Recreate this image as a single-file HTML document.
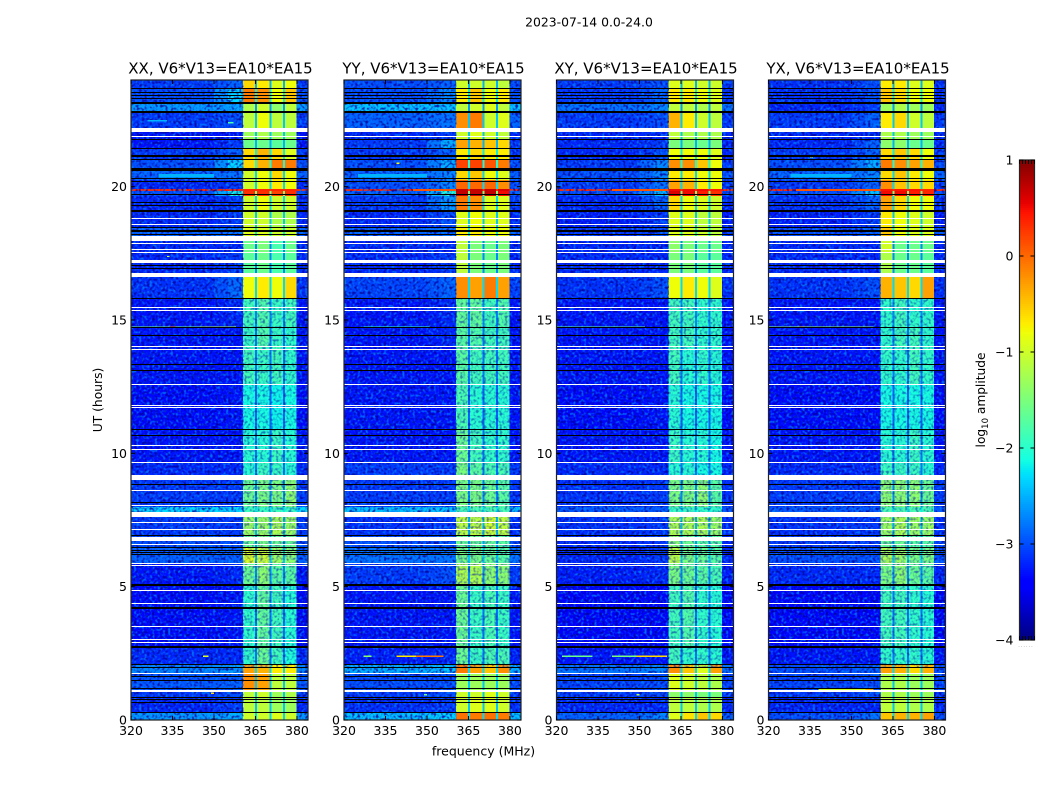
<!DOCTYPE html>
<html lang="en">
<head>
<meta charset="utf-8">
<title>2023-07-14 V6*V13 waterfall</title>
<style>
html,body{margin:0;padding:0;background:#fff;}
body{width:1050px;height:800px;overflow:hidden;}
svg{display:block;}
text{font-family:"DejaVu Sans","Liberation Sans",sans-serif;fill:#000;}
</style>
</head>
<body>
<svg id="figure" xmlns="http://www.w3.org/2000/svg" width="1050" height="800" viewBox="0 0 1050 800">
  <defs>
    <filter id="speckleLight" x="0" y="0" width="100%" height="100%" color-interpolation-filters="sRGB">
      <feTurbulence type="fractalNoise" baseFrequency="0.38" numOctaves="1" seed="4"/>
      <feColorMatrix type="matrix" values="0 0 0 0 0  0 0 0 0 0.5  0 0 0 0 1  4 0 0 0 -1.9"/>
    </filter>
    <filter id="speckleDark" x="0" y="0" width="100%" height="100%" color-interpolation-filters="sRGB">
      <feTurbulence type="fractalNoise" baseFrequency="0.38" numOctaves="1" seed="11"/>
      <feColorMatrix type="matrix" values="0 0 0 0 0  0 0 0 0 0  0 0 0 0 0.6  0 4 0 0 -1.9"/>
    </filter>
  </defs>
  <text x="589" y="26.5" font-size="12.4" text-anchor="middle">2023-07-14 0.0-24.0</text>
  <text x="483.5" y="755.5" font-size="12.5" text-anchor="middle">frequency (MHz)</text>
  <text x="0" y="0" font-size="12.3" text-anchor="middle" transform="translate(102,400) rotate(-90)">UT (hours)</text>
  <g id="panels"></g>
  <g id="colorbar"></g>
</svg>
<script>
/* ---------- data (all read by eye from the reference) ---------- */
const panelNames = ["XX", "YY", "XY", "YX"];
const panelTitleSuffix = ", V6*V13=EA10*EA15";
const freqTicks = [320, 335, 350, 365, 380];
const hourTicks = [0, 5, 10, 15, 20];
const colorbarTicks = [-4, -3, -2, -1, 0, 1];

/* channel column edges in MHz: low, ramp, shoulder, b1, gap, b2, gap, b3, gap, b4, out */
const freqEdges = [320, 350, 355, 360.5, 364.9, 365.6, 370.1, 370.8, 375, 375.6, 379.9, 384];

/* UT hour boundaries of contiguous rows, top to bottom */
const rowEdges = [24, 23.70, 23.13, 22.80, 22.20, 21.78, 21.45, 21.00, 20.70, 20.58, 20.25, 19.92, 19.83, 19.65, 19.09, 18.45, 18.15, 17.51, 16.65, 15.82, 14.74, 14.02, 12.60, 10.91, 9.67, 9.00, 7.99, 7.80, 6.90, 6.45, 5.89, 5.06, 2.74, 2.06, 1.72, 1.12, 0.82, 0.30, 0];

/* log10 amplitude of the notches between sub-bands, per row */
const notchLevels = [-2.5, -2.2, -2.6, -2.4, -2.4, -2.5, -2.2, -2.1, -1.2, -2.3, -2.3, 0.3, -1.5, -2.3, -2.4, -2.2, -2.7, -2.7, -2.3, -2.7, -2.8, -2.8, -2.9, -2.8, -2.8, -2.7, -2.2, -2.5, -2.6, -2.4, -2.7, -2.8, -2.8, -2.3, -2.4, -2.4, -2.4, -2.3];

/* per row: low-band, shoulder, sub-band 1..4 */
const xxLevels = [
[-3.1,-2.9,-0.6,-0.7,-0.9,-0.8],[-3.0,-2.3,-0.1,-0.2,-0.8,-0.5],[-2.6,-2.55,-1.2,-1.0,-1.4,-1.1],[-3.1,-3.0,-1.1,-0.8,-1.1,-1.1],
[-3.3,-3.3,-1.3,-1.2,-1.3,-1.3],[-3.3,-3.1,-1.6,-1.6,-1.7,-1.6],[-3.1,-2.9,-0.6,-0.4,-0.6,-0.9],[-3.0,-2.3,-0.6,-0.4,-0.1,-0.1],
[-2.8,-2.0,0.7,0.7,0.7,0.6],[-2.9,-2.8,-1.0,-0.8,-0.6,-0.8],[-3.2,-3.1,-1.0,-0.8,-0.7,-0.8],[0.35,0.35,0.35,0.35,0.35,0.35],
[-3.0,-2.1,0.3,0.3,0.2,0.3],[-3.2,-3.1,-1.0,-0.8,-1.0,-1.0],[-3.2,-3.1,-1.0,-1.0,-1.2,-1.2],[-2.9,-2.8,-0.9,-0.9,-1.0,-1.0],
[-3.2,-3.2,-1.6,-1.5,-1.8,-1.6],[-3.2,-3.1,-1.7,-1.6,-1.8,-1.7],[-3.15,-2.85,-0.8,-0.7,-0.8,-0.6],[-3.3,-3.2,-1.85,-1.75,-1.9,-1.85],
[-3.3,-3.3,-1.9,-1.75,-1.9,-1.95],[-3.3,-3.3,-1.85,-1.9,-1.85,-1.95],[-3.35,-3.3,-2.1,-2.1,-2.15,-2.1],[-3.3,-3.3,-2.0,-2.0,-1.9,-2.0],
[-3.2,-3.2,-2.0,-1.9,-1.9,-2.0],[-3.1,-3.1,-1.6,-1.5,-1.5,-1.4],[-2.3,-2.3,-1.9,-1.9,-1.9,-1.9],[-3.1,-3.1,-1.3,-1.3,-1.2,-1.3],
[-3.0,-3.0,-1.6,-1.5,-1.6,-1.6],[-2.9,-2.9,-0.9,-1.0,-1.3,-1.4],[-3.3,-3.2,-1.6,-1.4,-1.7,-1.7],[-3.35,-3.3,-1.95,-1.65,-1.85,-2.0],
[-3.2,-3.2,-1.95,-1.6,-1.85,-2.05],[-2.7,-2.6,-0.3,-0.4,-0.7,-0.7],[-2.95,-2.9,-0.2,-0.3,-1.1,-1.1],[-3.1,-3.0,-1.1,-1.0,-1.3,-1.2],
[-3.2,-3.1,-1.1,-1.1,-1.3,-1.3],[-2.6,-2.5,-1.0,-1.0,-0.9,-1.0]];

const yyLevels = [
[-3.0,-2.9,-1.0,-1.0,-1.0,-1.1],[-3.0,-2.7,-0.7,-0.5,-0.8,-0.7],[-2.4,-2.4,-1.1,-1.0,-0.9,-1.1],[-2.9,-2.8,-0.2,-0.1,-1.0,-0.9],
[-3.2,-3.1,-1.0,-0.9,-1.0,-1.1],[-3.1,-2.5,-0.3,-0.4,-0.5,-0.6],[-3.1,-2.9,-0.7,-0.6,-0.7,-0.7],[-3.0,-2.5,0.2,0.2,0.1,-0.1],
[-2.7,-2.0,0.6,0.6,0.6,0.5],[-2.9,-2.7,-0.6,-0.5,-0.8,-0.9],[-3.0,-2.7,0.0,0.0,0.0,-0.2],[0.35,0.35,0.7,0.7,0.7,0.6],
[-2.9,-2.0,0.7,0.7,0.7,0.5],[-3.1,-2.6,-0.1,-0.2,-0.9,-0.9],[-3.2,-3.0,-0.9,-0.8,-0.9,-0.9],[-2.9,-2.8,-0.7,-0.7,-0.8,-0.8],
[-3.2,-3.2,-1.1,-1.5,-1.6,-1.5],[-3.2,-3.1,-1.1,-1.5,-1.6,-1.5],[-3.05,-2.9,-0.2,-0.3,-0.1,-0.3],[-3.3,-3.2,-1.65,-1.65,-1.85,-1.75],
[-3.3,-3.2,-1.7,-1.75,-1.85,-1.85],[-3.3,-3.3,-1.7,-1.85,-1.85,-1.85],[-3.3,-3.3,-1.8,-2.0,-2.0,-2.0],[-3.3,-3.3,-1.6,-1.85,-1.95,-1.95],
[-3.1,-3.1,-1.5,-1.7,-1.8,-1.8],[-3.1,-3.1,-1.5,-1.5,-1.6,-1.7],[-2.4,-2.4,-1.8,-1.8,-1.8,-1.8],[-3.15,-3.1,-1.1,-1.1,-1.0,-1.1],
[-3.0,-3.0,-1.6,-1.6,-1.6,-1.7],[-2.8,-2.8,-1.5,-1.5,-1.6,-1.7],[-3.1,-3.0,-1.2,-1.2,-1.4,-1.4],[-3.3,-3.3,-1.6,-1.9,-1.8,-1.9],
[-3.25,-3.2,-1.6,-1.9,-1.8,-1.8],[-2.5,-2.4,-0.1,-0.3,-0.5,-0.2],[-3.0,-3.0,-1.3,-1.3,-1.3,-1.3],[-3.1,-3.0,-1.0,-1.0,-0.9,-1.0],
[-3.15,-3.1,-1.0,-0.9,-0.9,-1.0],[-2.4,-2.3,-0.05,-0.1,-0.05,-0.1]];

const xyLevels = [
[-3.1,-3.0,-0.9,-0.9,-1.0,-1.0],[-3.1,-2.9,-0.7,-0.7,-0.8,-0.9],[-2.8,-2.7,-1.1,-1.1,-1.2,-1.1],[-3.1,-3.0,-0.4,-0.7,-1.0,-1.1],
[-3.2,-3.2,-1.1,-1.2,-1.2,-1.2],[-3.2,-3.1,-1.5,-1.5,-1.6,-1.5],[-3.2,-3.0,-0.8,-0.8,-0.8,-0.9],[-3.1,-2.7,-0.2,-0.2,-0.5,-0.8],
[-2.9,-2.4,0.4,0.4,0.3,0.2],[-3.0,-2.7,-0.7,-0.7,-0.8,-0.8],[-3.1,-2.8,-0.3,-0.4,-0.7,-0.8],[0.35,0.35,0.5,0.5,0.5,0.4],
[-3.0,-2.4,0.6,0.5,0.4,0.3],[-3.2,-2.9,-0.6,-0.8,-0.9,-1.0],[-3.25,-3.1,-0.9,-0.9,-1.1,-1.1],[-3.1,-3.0,-0.9,-0.9,-1.0,-1.1],
[-3.2,-3.2,-1.4,-1.5,-1.6,-1.6],[-3.2,-3.2,-1.5,-1.5,-1.7,-1.7],[-3.15,-3.0,-0.8,-0.7,-0.8,-0.9],[-3.3,-3.3,-1.85,-1.85,-1.95,-1.95],
[-3.3,-3.3,-1.85,-1.85,-1.95,-1.95],[-3.3,-3.3,-1.85,-2.0,-1.95,-2.0],[-3.35,-3.3,-2.0,-2.1,-2.1,-2.1],[-3.3,-3.3,-1.9,-2.0,-2.0,-2.1],
[-3.2,-3.2,-2.0,-2.0,-2.1,-2.1],[-3.15,-3.1,-1.5,-1.5,-1.4,-1.7],[-2.95,-2.95,-1.9,-1.9,-1.95,-1.95],[-3.15,-3.1,-1.2,-1.2,-1.2,-1.3],
[-3.2,-3.1,-1.4,-1.6,-1.7,-1.7],[-3.2,-3.1,-1.1,-1.5,-1.6,-1.7],[-3.25,-3.2,-1.5,-1.6,-1.7,-1.8],[-3.4,-3.4,-1.85,-1.75,-1.95,-2.0],
[-3.3,-3.3,-1.85,-1.95,-1.95,-2.0],[-2.8,-2.7,-0.2,-0.5,-0.9,-0.3],[-3.05,-3.0,-0.9,-1.0,-1.1,-1.2],[-3.1,-3.0,-1.4,-1.4,-1.5,-1.5],
[-3.2,-3.2,-1.1,-1.1,-1.2,-1.2],[-2.9,-2.7,-0.9,-0.65,-0.5,-0.6]];

const yxLevels = [
[-3.15,-3.0,-0.7,-0.7,-0.9,-0.9],[-3.15,-3.0,-0.5,-0.6,-0.8,-0.8],[-3.2,-3.1,-1.3,-1.2,-1.3,-1.3],[-3.1,-2.9,-0.7,-0.6,-1.0,-1.1],
[-3.2,-3.2,-1.2,-1.2,-1.3,-1.3],[-3.2,-2.9,-1.4,-1.4,-1.6,-1.6],[-3.1,-2.9,-0.6,-0.5,-0.6,-0.8],[-3.0,-2.5,-0.1,-0.2,-0.3,-0.4],
[-2.8,-2.2,0.7,0.7,0.7,0.6],[-2.9,-2.7,-0.6,-0.5,-0.7,-0.8],[-3.1,-2.9,-0.2,-0.5,-0.6,-0.6],[0.35,0.35,0.45,0.45,0.45,0.35],
[-3.0,-2.4,0.5,0.5,0.4,0.35],[-3.15,-2.9,-0.3,-0.6,-0.8,-0.8],[-3.25,-3.1,-0.7,-0.8,-0.9,-1.0],[-3.0,-2.9,-0.5,-0.8,-0.9,-0.9],
[-3.2,-3.2,-1.0,-1.6,-1.6,-1.6],[-3.2,-3.2,-1.2,-1.6,-1.6,-1.7],[-3.15,-3.0,-0.4,-0.5,-0.6,-0.3],[-3.3,-3.3,-1.95,-1.85,-1.95,-1.95],
[-3.3,-3.3,-1.95,-1.85,-1.85,-1.95],[-3.3,-3.3,-1.95,-1.95,-1.85,-1.95],[-3.35,-3.35,-2.1,-2.1,-2.1,-2.1],[-3.3,-3.3,-2.0,-2.0,-1.9,-2.0],
[-3.2,-3.2,-1.9,-1.9,-1.9,-2.0],[-3.1,-3.1,-1.4,-1.4,-1.4,-1.6],[-2.95,-2.95,-1.8,-1.8,-1.8,-1.8],[-3.15,-3.1,-1.3,-1.2,-1.3,-1.3],
[-3.1,-3.1,-1.6,-1.6,-1.7,-1.7],[-3.0,-3.0,-1.2,-1.3,-1.5,-1.5],[-3.2,-3.2,-1.5,-1.4,-1.6,-1.7],[-3.4,-3.4,-1.85,-1.85,-1.95,-2.0],
[-3.3,-3.3,-1.95,-1.95,-1.95,-2.0],[-3.0,-2.9,-0.3,-0.4,-0.6,-0.4],[-3.05,-3.0,-1.2,-1.2,-1.3,-1.3],[-3.1,-3.0,-1.2,-1.2,-1.3,-1.3],
[-3.2,-3.2,-1.1,-1.1,-1.2,-1.2],[-3.0,-2.8,-0.5,-0.4,-0.4,-0.3]];

const panelLevels = [xxLevels, yyLevels, xyLevels, yxLevels];

/* flagged rows shared by every baseline: [start hour, end hour] */
const whiteGaps = [
[22.19,22.05],[21.90,21.85],[18.82,18.77],[18.61,18.56],[18.16,17.97],[17.87,17.83],[17.67,17.62],[17.56,17.51],
[17.25,17.12],[16.77,16.62],[15.47,15.42],[15.38,15.33],[14.04,13.99],[13.92,13.87],[12.60,12.55],[11.80,11.75],[11.73,11.68],
[10.31,10.26],[10.17,10.12],[9.67,9.62],[9.19,9.00],[8.63,8.58],[8.05,8.00],[7.79,7.60],[7.42,7.37],[7.16,7.11],[6.87,6.72],[6.60,6.55],
[5.89,5.84],[5.80,5.75],[4.87,4.82],[4.39,4.34],[3.53,3.48],[3.04,2.99],[2.94,2.89],[1.76,1.71],[1.12,1.05]];

const blackGaps = [
[23.71,23.66],[23.56,23.51],[23.42,23.37],[23.31,23.26],[23.17,23.09],[22.82,22.76],[21.80,21.75],[21.46,21.41],[21.18,21.12],[21.04,20.99],
[20.70,20.58],[20.31,20.26],[20.20,20.15],[19.73,19.68],[19.42,19.37],[19.30,19.25],[19.11,19.05],[18.48,18.43],[18.39,18.34],[18.32,18.27],
[18.22,18.17],[17.05,17.00],[16.96,16.91],[15.83,15.78],[14.72,14.67],[14.43,14.38],[13.36,13.31],[13.11,13.06],[10.92,10.87],[10.67,10.62],
[8.86,8.81],[8.17,8.12],[6.95,6.90],[6.48,6.43],[6.39,6.34],[6.29,6.24],[6.21,6.16],[5.10,5.02],[4.25,4.17],[2.77,2.69],[2.09,2.04],[2.00,1.95],
[1.64,1.59],[1.51,1.46],[1.19,1.14],[0.87,0.82],[0.80,0.75],[0.69,0.64],[0.31,0.26]];

/* narrow-band interference: [panel, start hour, end hour, start MHz, end MHz, log10 amplitude] */
const rfiStreaks = [
[0,14.76,14.72,320,345,-1.6],[0,14.76,14.72,345,358,-1.2],[0,14.76,14.72,334,336,0.0],[0,2.42,2.37,346,348,-0.9],[0,1.04,0.98,349,350,-0.6],
[1,14.76,14.72,327,351,-2.0],[1,2.42,2.37,327,330,-1.4],[1,2.42,2.37,339,346,-0.7],[1,2.42,2.37,346,356,-0.1],[1,0.98,0.92,349,350,-1.5],
[2,14.76,14.72,320,352,-1.7],[2,2.42,2.37,322,333,-1.6],[2,2.42,2.37,340,349,-1.5],[2,2.42,2.37,349,360,-0.6],[2,0.98,0.92,349,350,-1.2],
[3,14.76,14.72,320,358,-1.4],[3,14.76,14.72,331,333,-0.5],[3,1.17,1.12,338,358,-1.0],[3,1.17,1.12,355,358,-0.4],[3,16.66,16.62,320,358,-1.0],
[0,16.66,16.62,320,358,-1.1],[1,20.47,20.34,325,350,-2.5],[3,20.47,20.34,328,350,-2.5],[0,20.47,20.34,330,350,-2.5],
[1,19.92,19.83,345,360.5,0.1],[2,19.92,19.83,340,360.5,0.1],[3,19.92,19.83,330,360.5,0.1],
[0,22.50,22.45,326,333,-2.5],[0,22.42,22.37,355,357,-1.8],[0,17.40,17.37,333,334,-1.0],[1,20.90,20.85,339,340,-0.8],[3,21.15,21.10,335,336,-0.9]];

/* ---------- scales ---------- */
const panelLefts = [131, 344, 556.5, 768.5];
const PANEL_W = 177, PANEL_TOP = 80, PANEL_H = 640;
const F_MIN = 320, F_MAX = 384, H_MAX = 24;
const CB_X = 1019.5, CB_W = 15, CB_TOP = 160, CB_H = 480, CB_MIN = -4, CB_MAX = 1;
const SVG_NS = "http://www.w3.org/2000/svg";

function xScale(left, f) { return left + (f - F_MIN) * PANEL_W / (F_MAX - F_MIN); }
function yScale(h) { return PANEL_TOP + (H_MAX - h) * PANEL_H / H_MAX; }
function cbScale(v) { return CB_TOP + (CB_MAX - v) * CB_H / (CB_MAX - CB_MIN); }

function jetChannel(n, pts) {
  for (let i = 1; i < pts.length; i++) {
    if (n <= pts[i][0]) {
      const a = pts[i - 1], b = pts[i];
      return a[1] + (b[1] - a[1]) * (n - a[0]) / (b[0] - a[0]);
    }
  }
  return pts[pts.length - 1][1];
}
const JET_R = [[0,0],[0.35,0],[0.66,1],[0.89,1],[1,0.5]];
const JET_G = [[0,0],[0.125,0],[0.375,1],[0.64,1],[0.91,0],[1,0]];
const JET_B = [[0,0.5],[0.11,1],[0.34,1],[0.65,0],[1,0]];
function jet(v) {
  const n = Math.max(0, Math.min(1, (v - CB_MIN) / (CB_MAX - CB_MIN)));
  return "rgb(" + Math.round(255 * jetChannel(n, JET_R)) + "," + Math.round(255 * jetChannel(n, JET_G)) + "," + Math.round(255 * jetChannel(n, JET_B)) + ")";
}

function svgEl(tag, attrs, parent) {
  const el = document.createElementNS(SVG_NS, tag);
  for (const k in attrs) el.setAttribute(k, attrs[k]);
  parent.appendChild(el);
  return el;
}

/* ---------- panels ---------- */
const panelsGroup = document.getElementById("panels");
panelNames.forEach(function (name, p) {
  const left = panelLefts[p];
  const levels = panelLevels[p];
  const group = svgEl("g", {}, panelsGroup);
  
  

  const title = svgEl("text", { x: left + PANEL_W / 2 + 1, y: 73.5, "font-size": 15, "text-anchor": "middle" }, group);
  title.textContent = name + panelTitleSuffix;
  
  

  const cells = svgEl("g", { "shape-rendering": "crispEdges" }, group);
  
  
  levels.forEach(function (row, r) {
    /* column order follows freqEdges */
    const columnValues = [row[0], (row[0] + row[1]) / 2, row[1], row[2], notchLevels[r], row[3], notchLevels[r], row[4], notchLevels[r], row[5], row[0]];
    columnValues.forEach(function (v, c) {
      const x0 = xScale(left, freqEdges[c]), x1 = xScale(left, freqEdges[c + 1]);
      const y0 = yScale(rowEdges[r]), y1 = yScale(rowEdges[r + 1]);
      const cell = svgEl("rect", { x: x0, y: y0, width: x1 - x0, height: y1 - y0, fill: jet(v) }, cells);
      
      
    });
  });

  /* instrument-noise texture over the cells */
  const bandX = xScale(left, freqEdges[3]);
  const bandEnd = xScale(left, freqEdges[10]);
  const lowTex = svgEl("g", {}, group);
  
  
  svgEl("rect", { x: left, y: PANEL_TOP, width: bandX - left, height: PANEL_H, filter: "url(#speckleLight)", opacity: 0.8 }, lowTex);
  svgEl("rect", { x: left, y: PANEL_TOP, width: bandX - left, height: PANEL_H, filter: "url(#speckleDark)", opacity: 0.8 }, lowTex);
  svgEl("rect", { x: bandEnd, y: PANEL_TOP, width: left + PANEL_W - bandEnd, height: PANEL_H, filter: "url(#speckleLight)", opacity: 0.8 }, lowTex);
  svgEl("rect", { x: bandEnd, y: PANEL_TOP, width: left + PANEL_W - bandEnd, height: PANEL_H, filter: "url(#speckleDark)", opacity: 0.8 }, lowTex);
  svgEl("rect", { x: bandX, y: yScale(15.82), width: bandEnd - bandX, height: yScale(2.0) - yScale(15.82), filter: "url(#speckleLight)", opacity: 0.3 }, lowTex);
  svgEl("rect", { x: bandX, y: yScale(15.82), width: bandEnd - bandX, height: yScale(2.0) - yScale(15.82), filter: "url(#speckleDark)", opacity: 0.45 }, lowTex);

  const streaks = svgEl("g", { "shape-rendering": "crispEdges" }, group);
  
  
  rfiStreaks.filter(function (s) { return s[0] === p; }).forEach(function (s) {
    const y0 = yScale(Math.max(s[1], s[2])), y1 = yScale(Math.min(s[1], s[2]));
    const streak = svgEl("rect", { x: xScale(left, s[3]), y: y0, width: xScale(left, s[4]) - xScale(left, s[3]), height: Math.max(1, y1 - y0), fill: jet(s[5]) }, streaks);
    
    
  });

  const gaps = svgEl("g", { "shape-rendering": "crispEdges" }, group);
  
  
  whiteGaps.forEach(function (g) {
    const y0 = yScale(g[0]), y1 = yScale(g[1]);
    const gap = svgEl("rect", { x: left, y: Math.round(y0), width: PANEL_W, height: Math.max(1, Math.round(y1 - y0)), fill: "#fff" }, gaps);
    
    
  });
  blackGaps.forEach(function (g) {
    const y0 = yScale(g[0]), y1 = yScale(g[1]);
    const gap = svgEl("rect", { x: left, y: Math.round(y0), width: PANEL_W, height: Math.max(1, Math.round(y1 - y0)), fill: "#000" }, gaps);
    
    
  });

  const frame = svgEl("rect", { x: left, y: PANEL_TOP, width: PANEL_W, height: PANEL_H, fill: "none", stroke: "#222", "stroke-width": 1.2 }, group);
  
  

  freqTicks.forEach(function (f) {
    const x = xScale(left, f);
    const label = svgEl("text", { x: x, y: 735, "font-size": 12.5, "text-anchor": "middle" }, group);
    label.textContent = String(f);
    
    
    const tickA = svgEl("line", { x1: x, x2: x, y1: PANEL_TOP + PANEL_H, y2: PANEL_TOP + PANEL_H - 4, stroke: "#000" }, group);
    
    
    const tickB = svgEl("line", { x1: x, x2: x, y1: PANEL_TOP, y2: PANEL_TOP + 4, stroke: "#000" }, group);
    
    
  });
  hourTicks.forEach(function (h) {
    const y = yScale(h);
    const label = svgEl("text", { x: left - 4, y: y + 4.5, "font-size": 12.5, "text-anchor": "end" }, group);
    label.textContent = String(h);
    
    
    const tickA = svgEl("line", { x1: left, x2: left + 4, y1: y, y2: y, stroke: "#000" }, group);
    
    
    const tickB = svgEl("line", { x1: left + PANEL_W, x2: left + PANEL_W - 4, y1: y, y2: y, stroke: "#000" }, group);
    
    
  });
});

/* ---------- colour bar ---------- */
const cbGroup = document.getElementById("colorbar");
for (let py = 0; py < CB_H; py += 2) {
  const v = CB_MAX - (py + 1) * (CB_MAX - CB_MIN) / CB_H;
  const strip = svgEl("rect", { x: CB_X, y: CB_TOP + py, width: CB_W, height: 2, fill: jet(v), "shape-rendering": "crispEdges" }, cbGroup);
  
  
}
const cbFrame = svgEl("rect", { x: CB_X, y: CB_TOP, width: CB_W, height: CB_H, fill: "none", stroke: "#222", "stroke-width": 1.2 }, cbGroup);


colorbarTicks.forEach(function (v) {
  const y = cbScale(v);
  const label = svgEl("text", { x: 1013.5, y: y + 4.5, "font-size": 12.5, "text-anchor": "end" }, cbGroup);
  label.textContent = v < 0 ? "\u2212" + Math.abs(v) : String(v);
  
  
  const tickA = svgEl("line", { x1: CB_X, x2: CB_X + 4, y1: y, y2: y, stroke: "#000" }, cbGroup);
  
  
  const tickB = svgEl("line", { x1: CB_X + CB_W, x2: CB_X + CB_W - 4, y1: y, y2: y, stroke: "#000" }, cbGroup);
  
  
});
[0, 1, 2, 3, 4, 5].forEach(function (i) {
  const x = CB_X + i * CB_W / 5;
  const tickTop = svgEl("line", { x1: x, x2: x, y1: CB_TOP, y2: CB_TOP + 4, stroke: "#000" }, cbGroup);
  
  
  const tickBottom = svgEl("line", { x1: x, x2: x, y1: CB_TOP + CB_H, y2: CB_TOP + CB_H - 4, stroke: "#000" }, cbGroup);
  
  
});
const cbDots = svgEl("text", { x: CB_X + CB_W / 2 - 1, y: 647, "font-size": 5, "text-anchor": "middle", "letter-spacing": "1" }, cbGroup);
cbDots.textContent = "......";
cbDots.style.fill = "#888";


const cbLabel = svgEl("text", { "font-size": 12.2, "text-anchor": "middle", transform: "translate(985,400) rotate(-90)" }, cbGroup);


const t1 = svgEl("tspan", {}, cbLabel); t1.textContent = "log";
const t2 = svgEl("tspan", { dy: 3, "font-size": 8.5 }, cbLabel); t2.textContent = "10";
const t3 = svgEl("tspan", { dy: -3 }, cbLabel); t3.textContent = " amplitude";
</script>
</body>
</html>
